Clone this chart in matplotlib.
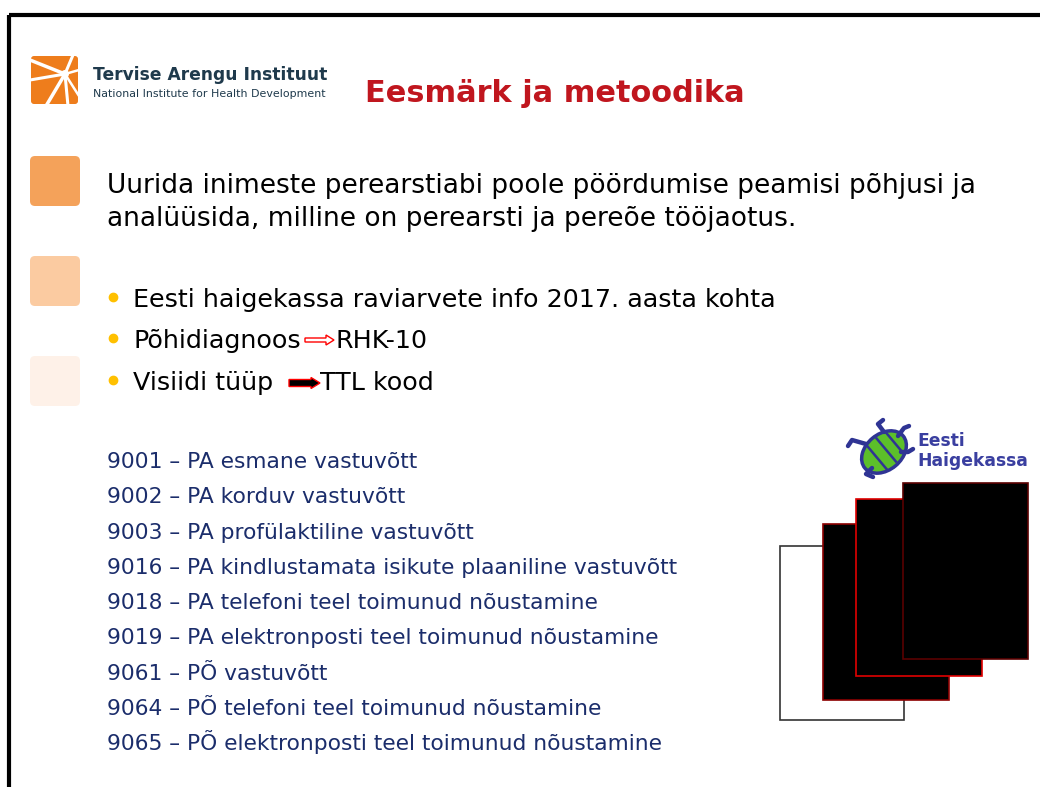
import numpy as np
import matplotlib.pyplot as plt
from matplotlib.patches import FancyBboxPatch, Rectangle, FancyArrow, Ellipse, Circle

#---------------------- slide content ----------------------
title = "Eesmärk ja metoodika"
logo_name = "Tervise Arengu Instituut"
logo_sub = "National Institute for Health Development"
intro_lines = ["Uurida inimeste perearstiabi poole pöördumise peamisi põhjusi ja",
               "analüüsida, milline on perearsti ja pereõe tööjaotus."]
bullet_left = ["Eesti haigekassa raviarvete info 2017. aasta kohta", "Põhidiagnoos", "Visiidi tüüp "]
bullet_right = ["", "RHK-10", "TTL kood"]
codes = ["9001", "9002", "9003", "9016", "9018", "9019", "9061", "9064", "9065"]
code_names = ["PA esmane vastuvõtt",
              "PA korduv vastuvõtt",
              "PA profülaktiline vastuvõtt",
              "PA kindlustamata isikute plaaniline vastuvõtt",
              "PA telefoni teel toimunud nõustamine",
              "PA elektronposti teel toimunud nõustamine",
              "PÕ vastuvõtt",
              "PÕ telefoni teel toimunud nõustamine",
              "PÕ elektronposti teel toimunud nõustamine"]
square_colors = ["#f4a25a", "#fbcba1", "#fef1e8"]

navy = "#1b2d6b"
dark_red = "#c0161e"

#---------------------- figure in pixel coordinates ----------------------
fig = plt.figure(figsize=(10.4, 7.87), dpi=100)
ax = fig.add_axes([0, 0, 1, 1])
ax.set_xlim(0, 1040)
ax.set_ylim(787, 0)
ax.axis('off')

# slide frame (top and left edge)
ax.plot([8.5, 1040], [14.5, 14.5], color='black', lw=3, solid_capstyle='butt')
ax.plot([8.5, 8.5], [14.5, 787], color='black', lw=3, solid_capstyle='butt')

# TAI logo: orange square with white rays
ax.add_patch(FancyBboxPatch((31, 56), 47, 48, boxstyle="round,pad=0,rounding_size=3",
                            fc="#ee7d1c", ec='none'))
cx, cy = 65, 74
for ex, ey, w in [(30, 60, 2.5), (30, 80, 2.2), (46, 106, 2.5), (68, 106, 2.2),
                  (79, 96, 1.8), (79, 70, 1.8), (73, 55, 2.2)]:
    ax.plot([cx, ex], [cy, ey], color='white', lw=w, solid_capstyle='butt')
ax.add_patch(Circle((cx, cy), 4, fc='white', ec='none'))
ax.text(93, 80, logo_name, fontsize=12.3, fontweight='bold', color="#1f3a4c", va='baseline')
ax.text(93, 97, logo_sub, fontsize=7.9, color="#1f3a4c", va='baseline')

# title
ax.text(365, 102, title, fontsize=21.9, fontweight='bold', color=dark_red, va='baseline')

# decorative squares on the left
for i, c in enumerate(square_colors):
    ax.add_patch(FancyBboxPatch((30, 156 + 100 * i), 50, 50,
                                boxstyle="round,pad=0,rounding_size=5", fc=c, ec='none'))

# intro paragraph
for i, line in enumerate(intro_lines):
    ax.text(107, 193 + 33 * i, line, fontsize=19, color='black', va='baseline')

# bullets
bullet_y = [307, 348, 390]
for i in range(3):
    ax.plot(113, bullet_y[i] - 10, 'o', color="#ffc000", ms=6)
    ax.text(133, bullet_y[i], bullet_left[i], fontsize=18.3, color='black', va='baseline')
ax.add_patch(FancyArrow(305, 340, 21, 0, width=4, head_width=10, head_length=8,
                        length_includes_head=False, fc='white', ec='red', lw=1))
ax.text(335, bullet_y[1], bullet_right[1], fontsize=18.3, color='black', va='baseline')
ax.add_patch(FancyArrow(289, 383, 22, 0, width=7, head_width=11, head_length=9,
                        length_includes_head=False, fc='black', ec='red', lw=1))
ax.text(320, bullet_y[2], bullet_right[2], fontsize=18.3, color='black', va='baseline')

# visit type codes
for i, (code, name) in enumerate(zip(codes, code_names)):
    ax.text(107, 468 + 35.3 * i, code + " – " + name, fontsize=15.7, color=navy, va='baseline')

# Haigekassa logo (turtle)
blue = "#2f3494"
legs = [(866, 444, 852, 440, 848, 446), (872, 468, 866, 474, 873, 477),
        (884, 432, 878, 424, 883, 420), (898, 436, 904, 428, 909, 426),
        (901, 452, 908, 452, 913, 449)]
for (x0, y0, x1, y1, x2, y2) in legs:
    ax.plot([x0, x1, x2], [y0, y1, y2], color=blue, lw=3.2, solid_capstyle='round',
            solid_joinstyle='round')
ax.add_patch(Ellipse((884, 452), 50, 36, angle=-40, fc="#5cbf2a", ec=blue, lw=2.5))
a = np.deg2rad(-40)
for t in [-9, 3, 14]:
    px, py = 884 + t * np.cos(a), 452 + t * np.sin(a)
    nx, ny = -np.sin(a), np.cos(a)
    ax.plot([px - 15 * nx, px + 15 * nx], [py - 15 * ny, py + 15 * ny], color=blue, lw=1.8)
ax.text(917, 446, "Eesti", fontsize=12.3, fontweight='bold', color="#3a3fa0", va='baseline')
ax.text(917, 466, "Haigekassa", fontsize=12.3, fontweight='bold', color="#3a3fa0", va='baseline')

# stacked pages
ax.add_patch(Rectangle((780, 546), 124, 174, fc='white', ec='#333333', lw=1.2))
ax.add_patch(Rectangle((823, 524), 126, 176, fc='black', ec='#8b0000', lw=1.2))
ax.add_patch(Rectangle((856, 499), 126, 177, fc='black', ec='#e00000', lw=1.2))
ax.add_patch(Rectangle((903, 483), 125, 176, fc='black', ec='#5a0000', lw=1.2))

fig.savefig("out.png", dpi=100)
